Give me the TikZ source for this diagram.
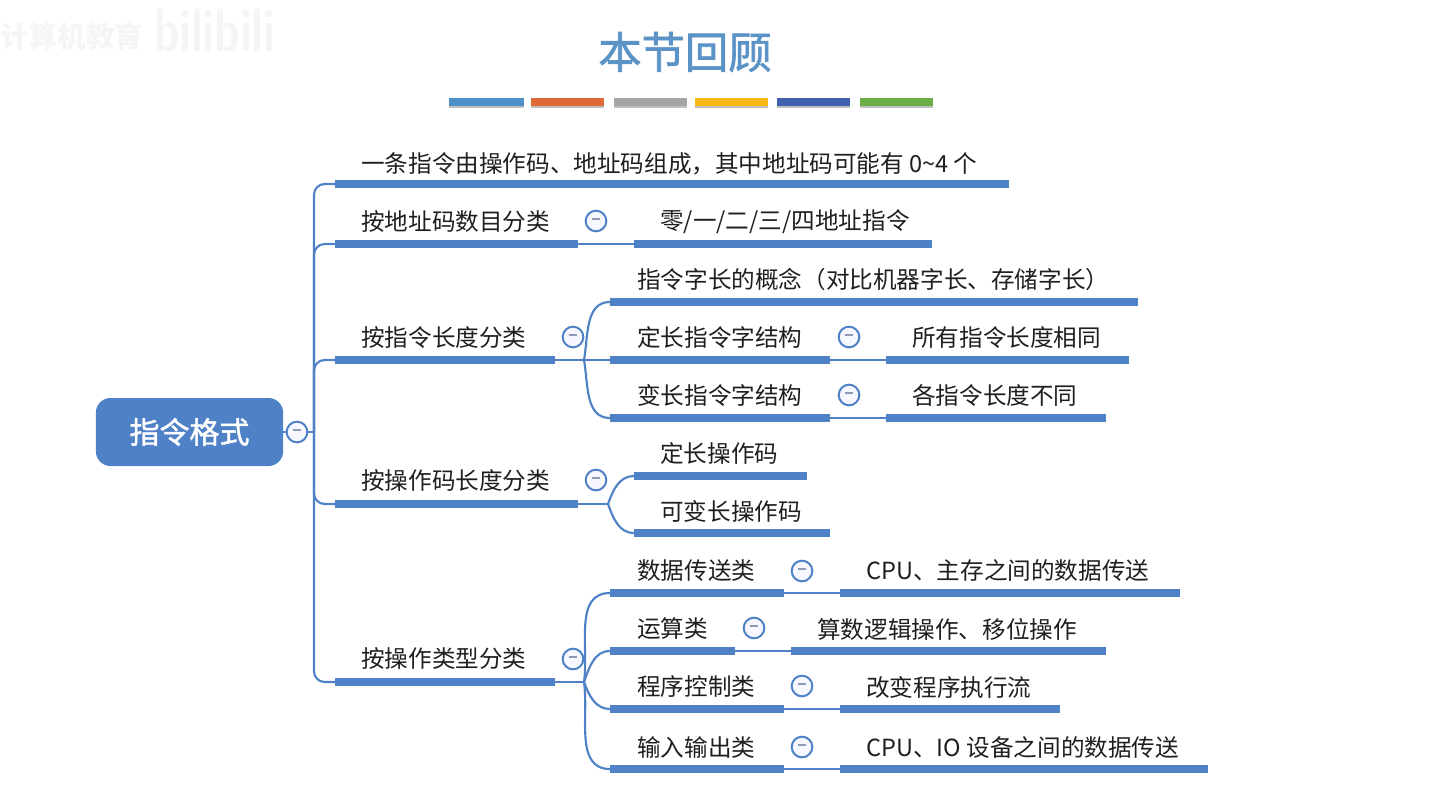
\documentclass[tikz,border=0pt]{standalone}
\usepackage{fontspec}
\setmainfont{Noto Sans CJK SC}
\newfontfamily\medfont[FakeBold=1.5]{Noto Sans CJK SC}
\usepackage{graphicx}
\usepackage{xcolor}
\usetikzlibrary{positioning,shadows}
\definecolor{mapblue}{HTML}{4F81C7}
\definecolor{titleblue}{HTML}{5B93C7}
\definecolor{minusgray}{HTML}{8F9BB5}

\begin{document}
\begin{tikzpicture}[
x=0.75pt,
y=-0.75pt,
every node/.style={font=\fontsize{17.7}{20}\selectfont},
mark text/.style={anchor=west,inner sep=0pt,yshift=-0.75pt,text=black!88},
bar/.style={rectangle,fill=mapblue,inner sep=0pt,outer sep=0pt,minimum height=5.4pt,anchor=west},
link/.style={draw=mapblue,line width=1.6pt},
fold/.style={circle,draw=mapblue,line width=1.5pt,fill=blue!3,inner sep=0pt,minimum size=15.5pt,node contents={\textcolor{minusgray}{\rule[2.6pt]{6.5pt}{1.3pt}}}},
strip/.style={rectangle,inner sep=0pt,minimum height=5.6pt,anchor=west,drop shadow={shadow xshift=0pt,shadow yshift=-2pt,opacity=.5}},
rootbox/.style={rectangle,rounded corners=11pt,fill=mapblue,inner sep=0pt,minimum width=140.5pt,minimum height=51pt,text=white,font=\fontsize{22.5}{25}\selectfont\medfont},
head/.style={text=titleblue,inner sep=0pt,font=\fontsize{32.5}{36}\selectfont\medfont},
wm/.style={text=black!4,inner sep=0pt,anchor=west,font=\fontsize{21.5}{24}\selectfont\bfseries}
]
\useasboundingbox (0,0) rectangle (1437,795);

\node[wm] (wmtext) at (0,36) {计算机教育};
\node[wm,font=\fontsize{46}{50}\selectfont\bfseries\sffamily] (wmlogo) at (154,31) {\scalebox{0.74}[1]{bilibili}};

\node[head] (title) at (685,52) {本节回顾};
\node[strip,fill={rgb,255:red,77;green,143;blue,201},minimum width=56.2pt] (strip1) at (449,102) {};
\node[strip,fill={rgb,255:red,224;green,105;blue,58},minimum width=54.8pt] (strip2) at (531,102) {};
\node[strip,fill={rgb,255:red,165;green,165;blue,165},minimum width=54.8pt] (strip3) at (614,102) {};
\node[strip,fill={rgb,255:red,245;green,185;blue,20},minimum width=54.8pt] (strip4) at (695,102) {};
\node[strip,fill={rgb,255:red,64;green,96;blue,176},minimum width=54.8pt] (strip5) at (777,102) {};
\node[strip,fill={rgb,255:red,106;green,174;blue,69},minimum width=54.8pt] (strip6) at (860,102) {};

\node[rootbox] (root) at (189.5,432) {指令格式};
\coordinate (spine) at (314,432);

% first level
\node[bar,minimum width=505.5pt] (partsbar) at (335,184) {};
\node[bar,minimum width=182.2pt] (addrbar) at (335,244) {};
\node[bar,minimum width=165pt] (lenbar) at (335,360) {};
\node[bar,minimum width=182.2pt] (opbar) at (335,504) {};
\node[bar,minimum width=165pt] (typebar) at (335,682) {};
\node[mark text] (parts) at (361,163) {一条指令由操作码、地址码组成，其中地址码可能有 0\textasciitilde 4 个};
\node[mark text] (addr) at (361,221) {按地址码数目分类};
\node[mark text] (len) at (361,337) {按指令长度分类};
\node[mark text] (op) at (361,480) {按操作码长度分类};
\node[mark text] (type) at (361,658) {按操作类型分类};

% second level
\node[bar,minimum width=223.5pt] (addrsubbar) at (634,244) {};
\node[mark text] (addrsub) at (660,221) {零/一/二/三/四地址指令};

\node[bar,minimum width=396pt] (wordbar) at (610,302) {};
\node[bar,minimum width=165pt] (fixbar) at (610,360) {};
\node[bar,minimum width=182.2pt] (fixsubbar) at (886,360) {};
\node[bar,minimum width=165pt] (varbar) at (610,418) {};
\node[bar,minimum width=165pt] (varsubbar) at (886,418) {};
\node[mark text] (word) at (637,279) {指令字长的概念（对比机器字长、存储字长）};
\node[mark text] (fix) at (637,337) {定长指令字结构};
\node[mark text] (fixsub) at (912,337) {所有指令长度相同};
\node[mark text] (var) at (637,394) {变长指令字结构};
\node[mark text] (varsub) at (912,394) {各指令长度不同};

\node[bar,minimum width=129.8pt] (opfixbar) at (634,476) {};
\node[bar,minimum width=147pt] (opvarbar) at (634,533) {};
\node[mark text] (opfix) at (660,452) {定长操作码};
\node[mark text] (opvar) at (660,510) {可变长操作码};

\node[bar,minimum width=130.5pt] (movebar) at (610,593) {};
\node[bar,minimum width=255pt] (movesubbar) at (840,593) {};
\node[bar,minimum width=93.8pt] (calcbar) at (610,651) {};
\node[bar,minimum width=236.2pt] (calcsubbar) at (791,651) {};
\node[bar,minimum width=130.5pt] (ctrlbar) at (610,709) {};
\node[bar,minimum width=165pt] (ctrlsubbar) at (840,709) {};
\node[bar,minimum width=130.5pt] (iobar) at (610,769) {};
\node[bar,minimum width=276pt] (iosubbar) at (840,769) {};
\node[mark text] (move) at (637,570) {数据传送类};
\node[mark text] (movesub) at (866,570) {CPU、主存之间的数据传送};
\node[mark text] (calc) at (637,628) {运算类};
\node[mark text] (calcsub) at (817,628) {算数逻辑操作、移位操作};
\node[mark text] (ctrl) at (637,686) {程序控制类};
\node[mark text] (ctrlsub) at (866,686) {改变程序执行流};
\node[mark text] (io) at (637,746) {输入输出类};
\node[mark text] (iosub) at (866,746) {CPU、IO 设备之间的数据传送};

% connectors
\draw[link] (root.east) -- (spine);
\draw[link,rounded corners=8pt] (spine) |- (partsbar.west);
\draw[link,rounded corners=8pt] (spine) |- (addrbar.west);
\draw[link,rounded corners=8pt] (spine) |- (lenbar.west);
\draw[link,rounded corners=8pt] (spine) |- (opbar.west);
\draw[link,rounded corners=8pt] (spine) |- (typebar.west);

\draw[link] (addrbar.east) -- (addrsubbar.west);
\draw[link] (fixbar.east) -- (fixsubbar.west);
\draw[link] (varbar.east) -- (varsubbar.west);
\draw[link] (movebar.east) -- (movesubbar.west);
\draw[link] (calcbar.east) -- (calcsubbar.west);
\draw[link] (ctrlbar.east) -- (ctrlsubbar.west);
\draw[link] (iobar.east) -- (iosubbar.west);

\coordinate (lenjoint) at (584,360);
\coordinate (opjoint) at (608,504);
\coordinate (typejoint) at (584,682);
\draw[link] (lenbar.east) -- (lenjoint);
\draw[link] (opbar.east) -- (opjoint);
\draw[link] (typebar.east) -- (typejoint);
\draw[link] (lenjoint) to[out=80,in=180] (wordbar.west);
\draw[link] (lenjoint) -- (fixbar.west);
\draw[link] (lenjoint) to[out=-80,in=180] (varbar.west);
\draw[link] (opjoint) to[out=70,in=180] (opfixbar.west);
\draw[link] (opjoint) to[out=-70,in=180] (opvarbar.west);
\draw[link] (typejoint) to[out=82,in=180] (movebar.west);
\draw[link] (typejoint) to[out=70,in=180] (calcbar.west);
\draw[link] (typejoint) to[out=-70,in=180] (ctrlbar.west);
\draw[link] (typejoint) to[out=-82,in=180] (iobar.west);

% fold marks
\node (rootfold) at (297,432) [fold];
\node (addrfold) at (596,221) [fold];
\node (lenfold) at (573,337) [fold];
\node (opfold) at (596,480) [fold];
\node (typefold) at (573,659) [fold];
\node (fixfold) at (849,337) [fold];
\node (varfold) at (849,395) [fold];
\node (movefold) at (802,571) [fold];
\node (calcfold) at (754,628) [fold];
\node (ctrlfold) at (802,686) [fold];
\node (iofold) at (802,747) [fold];
\end{tikzpicture}
\end{document}
